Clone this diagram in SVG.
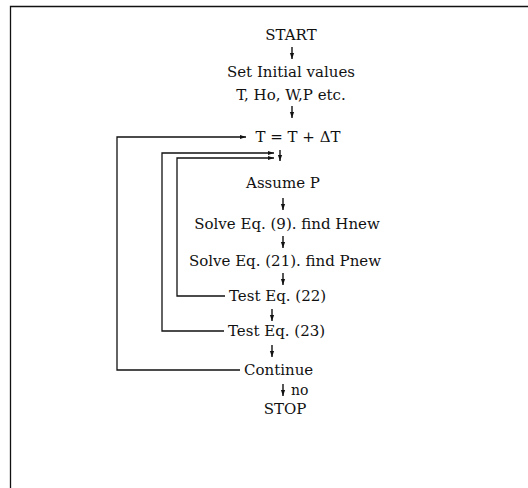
<svg xmlns="http://www.w3.org/2000/svg" width="528" height="488" viewBox="0 0 528 488">
<defs>
<marker id="ah" viewBox="0 0 10 10" refX="10" refY="5" markerWidth="6" markerHeight="6" markerUnits="userSpaceOnUse" orient="auto"><path d="M0,1.5 L10,5 L0,8.5 Z" fill="#111"/></marker>
<marker id="hh" viewBox="0 0 10 10" refX="10" refY="5" markerWidth="8" markerHeight="6" markerUnits="userSpaceOnUse" orient="auto"><path d="M0,1.5 L10,5 L0,8.5 Z" fill="#111"/></marker>
</defs>
<style>
text{font-family:"DejaVu Serif","Liberation Serif",serif;font-size:15px;fill:#111;text-anchor:middle}
text.s{text-anchor:start}
.c{fill:none;stroke:#111;stroke-width:1.3}
.d{fill:none;stroke:#111;stroke-width:1.4;marker-end:url(#ah)}
.h{fill:none;stroke:#111;stroke-width:1.3;marker-end:url(#hh)}
</style>
<rect width="528" height="488" fill="#fff"/>
<g id="frame"><path class="c" d="M10.5,488 V6.5 H528"/></g>
<g id="connectors">
<path class="d" d="M292,47 V59"/>
<path class="d" d="M292,106 V118"/>
<path class="d" d="M280,150 V161"/>
<path class="d" d="M283,198 V210"/>
<path class="d" d="M283,236 V248"/>
<path class="d" d="M283,273 V285"/>
<path class="d" d="M272,309 V321"/>
<path class="d" d="M272,345 V357"/>
<path class="d" d="M283,384 V396"/>
<path class="h" d="M225,296 H177 V158 H274"/>
<path class="h" d="M224,331 H162 V153 H274"/>
<path class="h" d="M240,370 H117 V137 H246"/>
</g>
<g id="n-start"><text x="291" y="40">START</text></g>
<g id="n-init"><text x="291" y="77">Set Initial values</text><text x="291" y="100">T, Ho, W,P etc.</text></g>
<g id="n-t"><text x="298" y="142">T = T + ΔT</text></g>
<g id="n-assume"><text x="283" y="188">Assume P</text></g>
<g id="n-solve9"><text x="287" y="229">Solve Eq. (9). find Hnew</text></g>
<g id="n-solve21"><text x="285" y="266">Solve Eq. (21). find Pnew</text></g>
<g id="n-test22"><text class="s" x="229" y="301">Test Eq. (22)</text></g>
<g id="n-test23"><text class="s" x="228" y="336">Test Eq. (23)</text></g>
<g id="n-continue"><text class="s" x="244" y="375">Continue</text><text class="s" x="291" y="395" style="font-size:14px">no</text></g>
<g id="n-stop"><text x="285" y="414">STOP</text></g>
</svg>
